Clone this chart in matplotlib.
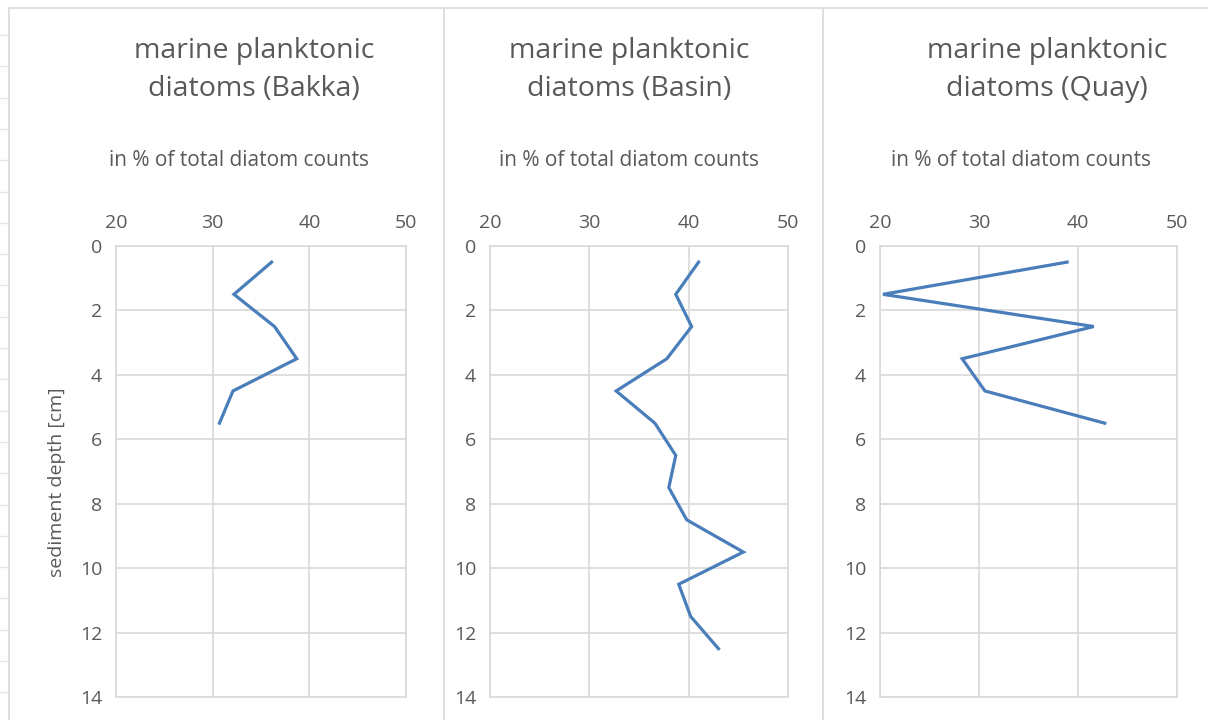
import matplotlib.pyplot as plt
import numpy as np

plt.rcParams["font.family"] = ["Open Sans", "DejaVu Sans"]

# sample depths (cm)
depth_bakka = [0.5, 1.5, 2.5, 3.5, 4.5, 5.5]
depth_basin = [0.5, 1.5, 2.5, 3.5, 4.5, 5.5, 6.5, 7.5, 8.5, 9.5, 10.5, 11.5, 12.5]
depth_quay = [0.5, 1.5, 2.5, 3.5, 4.5, 5.5]

# marine planktonic diatoms, % of total diatom counts
pct_bakka = [36.1, 32.2, 36.4, 38.7, 32.1, 30.7]
pct_basin = [41.0, 38.7, 40.3, 37.8, 32.7, 36.6, 38.7, 38.0, 39.8, 45.5, 39.0, 40.2, 43.0]
pct_quay = [38.9, 20.3, 41.6, 28.3, 30.6, 42.7]

titles = ["marine planktonic\ndiatoms (Bakka)",
          "marine planktonic\ndiatoms (Basin)",
          "marine planktonic\ndiatoms (Quay)"]
subtitle = "in % of total diatom counts"

text_col = "#595959"
grid_col = "#d9d9d9"
line_col = "#4a7ebb"

W, H = 1208, 720
fig = plt.figure(figsize=(W / 100, H / 100), dpi=100)

# axes boxes in pixels: left, right, top, bottom
boxes = [(116, 406, 246, 697), (490, 788, 246, 697), (880, 1177, 246, 697)]
title_x = [254, 629, 1047]
sub_x = [239, 629, 1021]

series = [(depth_bakka, pct_bakka), (depth_basin, pct_basin), (depth_quay, pct_quay)]

for i, (l, r, t, b) in enumerate(boxes):
    ax = fig.add_axes([l / W, 1 - b / H, (r - l) / W, (b - t) / H])
    d, p = series[i]
    ax.plot(p, d, color=line_col, lw=2.3, solid_joinstyle="miter")
    ax.set_xlim(20, 50)
    ax.set_ylim(14, 0)
    ax.set_xticks([20, 30, 40, 50])
    ax.set_yticks(np.arange(0, 15, 2))
    ax.xaxis.tick_top()
    ax.tick_params(length=0, labelsize=14, labelcolor=text_col, pad=10)
    ax.grid(True, color=grid_col, lw=1.2)
    for s in ax.spines.values():
        s.set_color(grid_col)
        s.set_linewidth(1.2)
    ax.set_axisbelow(True)
    fig.text(title_x[i] / W, 1 - 70 / H, titles[i], ha="center", va="center",
             fontsize=20.5, color=text_col, linespacing=1.45)
    fig.text(sub_x[i] / W, 1 - 160 / H, subtitle, ha="center", va="center",
             fontsize=15, color=text_col)

fig.text(57 / W, 1 - 482 / H, "sediment depth [cm]", rotation=90, ha="center",
         va="center", fontsize=14, color=text_col)

# chart frames from the spreadsheet
frame_col = "#d9d9d9"
fig.add_artist(plt.Line2D([9 / W, 1], [1 - 8 / H, 1 - 8 / H], color=frame_col, lw=1.2))
for x in [9, 444, 823]:
    fig.add_artist(plt.Line2D([x / W, x / W], [0, 1 - 8 / H], color=frame_col, lw=1.2))
for y in np.arange(35, 720, 31.3):
    fig.add_artist(plt.Line2D([0, 7 / W], [1 - y / H, 1 - y / H], color="#e6e6e6", lw=1))

fig.savefig("out.png", dpi=100)
